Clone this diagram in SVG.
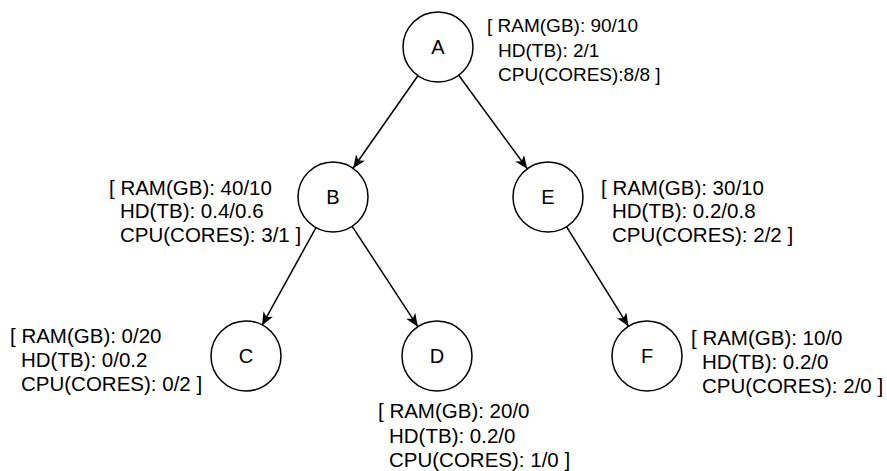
<svg xmlns="http://www.w3.org/2000/svg" width="887" height="471" viewBox="0 0 887 471">
  <defs>
    <marker id="arrow" markerUnits="userSpaceOnUse" markerWidth="14" markerHeight="12" refX="13" refY="5.5" orient="auto">
      <path d="M0,0 L13,5.5 L0,11 L3.5,5.5 z" fill="#000"/>
    </marker>
    <style>
      .node circle { fill: #fff; stroke: #000; stroke-width: 1.5; }
      .node text.name { font-family: "Liberation Sans", Arial, sans-serif; font-size: 20px; text-anchor: middle; dominant-baseline: central; fill: #000; }
      .info { font-family: "Liberation Sans", Arial, sans-serif; font-size: 20.5px; fill: #000; }
      .info.small { font-size: 19px; }
      .edges line { stroke: #000; stroke-width: 1.5; marker-end: url(#arrow); }
    </style>
  </defs>
  <rect width="887" height="471" fill="#fff"/>

  <!-- tree edges -->
  <g id="edges" class="edges">
    <line x1="417.9" y1="75.7" x2="353.1" y2="168.3"/>
    <line x1="458.7" y1="75.2" x2="527.3" y2="168.8"/>
    <line x1="316.0" y1="227.6" x2="262.0" y2="325.4"/>
    <line x1="352.2" y1="226.3" x2="417.8" y2="326.7"/>
    <line x1="566.5" y1="226.7" x2="628.5" y2="326.3"/>
  </g>

  <g id="node-A" class="node">
    <circle cx="438" cy="47" r="35"/>
    <text class="name" x="438" y="47">A</text>
    <text class="info small" x="487" y="32">[ RAM(GB): 90/10<tspan x="498" y="57">HD(TB): 2/1</tspan><tspan x="498" y="81">CPU(CORES):8/8 ]</tspan></text>
  </g>

  <g id="node-B" class="node">
    <circle cx="333" cy="197" r="35"/>
    <text class="name" x="333" y="197">B</text>
    <text class="info" x="109" y="195">[ RAM(GB): 40/10<tspan x="120" y="218">HD(TB): 0.4/0.6</tspan><tspan x="120" y="242">CPU(CORES): 3/1 ]</tspan></text>
  </g>

  <g id="node-E" class="node">
    <circle cx="548" cy="197" r="35"/>
    <text class="name" x="548" y="197">E</text>
    <text class="info" x="601" y="195">[ RAM(GB): 30/10<tspan x="612" y="218">HD(TB): 0.2/0.8</tspan><tspan x="612" y="242">CPU(CORES): 2/2 ]</tspan></text>
  </g>

  <g id="node-C" class="node">
    <circle cx="246" cy="356" r="35"/>
    <text class="name" x="246" y="356">C</text>
    <text class="info" x="10" y="343">[ RAM(GB): 0/20<tspan x="21" y="367">HD(TB): 0/0.2</tspan><tspan x="21" y="391">CPU(CORES): 0/2 ]</tspan></text>
  </g>

  <g id="node-D" class="node">
    <circle cx="437" cy="356" r="35"/>
    <text class="name" x="437" y="356">D</text>
    <text class="info" x="378" y="418">[ RAM(GB): 20/0<tspan x="389" y="443">HD(TB): 0.2/0</tspan><tspan x="389" y="467">CPU(CORES): 1/0 ]</tspan></text>
  </g>

  <g id="node-F" class="node">
    <circle cx="647" cy="356" r="35"/>
    <text class="name" x="647" y="356">F</text>
    <text class="info" x="691" y="345">[ RAM(GB): 10/0<tspan x="702" y="369">HD(TB): 0.2/0</tspan><tspan x="702" y="393">CPU(CORES): 2/0 ]</tspan></text>
  </g>
</svg>
